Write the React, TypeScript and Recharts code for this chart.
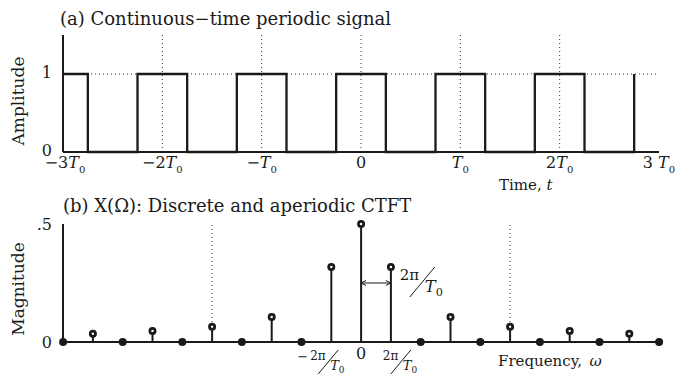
import React from "react";
import {
  ComposedChart,
  Line,
  Bar,
  XAxis,
  YAxis,
  ReferenceLine
} from "recharts";

// (a) square wave, time in units of T0: level switches at each edge
const edgeTimes = [-3, -2.75, -2.25, -1.75, -1.25, -0.75, -0.25, 0.25, 0.75, 1.25, 1.75, 2.25, 2.75];
const pulseLevels = [1, 0, 1, 0, 1, 0, 1, 0, 1, 0, 1, 0, 1];
const timeTicks = [-3, -2, -1, 0, 1, 2, 3];
const timeTickCoefs = ["−3", "−2", "−", "0", "", "2", "3 "];
const timeGrid = [-2, -1, 0, 1, 2];
const ampTicks = [0, 1];

// (b) line spectrum, k = harmonic index (multiples of 2π/T0)
const harmonicIdx = [-10, -9, -8, -7, -6, -5, -4, -3, -2, -1, 0, 1, 2, 3, 4, 5, 6, 7, 8, 9, 10];
const magnitudes = [0, 0.035, 0, 0.047, 0, 0.065, 0, 0.106, 0, 0.318, 0.5, 0.318, 0, 0.106, 0, 0.065, 0, 0.047, 0, 0.035, 0];
const freqTicks = [-1, 0, 1];
const freqGrid = [-5, 5];
const magTicks = [0, 0.5];
const magTickLabels = ["0", ".5"];

const signal = edgeTimes.map((t, i) => ({ t, level: pulseLevels[i] }));
const spectrum = harmonicIdx.map((k, i) => ({ k, mag: magnitudes[i] }));

const FONT = "'DejaVu Serif', serif";
const INK = "#1a1a1a";

const NoTick = () => <g />;

function TimeTick({ x, y, payload }: any) {
  const v = payload.value;
  const coef = timeTickCoefs[timeTicks.indexOf(v)];
  return (
    <text x={x + (v === -3 ? 2 : 0)} y={y + 8} textAnchor="middle" fontFamily={FONT} fontSize={16} fill={INK}>
      {coef}
      {v !== 0 && (
        <>
          <tspan fontStyle="italic">T</tspan>
          <tspan fontSize={10} dy={5}>0</tspan>
        </>
      )}
    </text>
  );
}

// slanted fraction 2π / T0 starting at ox
function Frac({ ox, y, size }: { ox: number; y: number; size: number }) {
  const s = size / 12;
  return (
    <g fontFamily={FONT} fill={INK}>
      <text x={ox} y={y + 10 * s} fontSize={12 * s}>2π</text>
      <line x1={ox + 8 * s} y1={y + 24 * s} x2={ox + 28 * s} y2={y} stroke={INK} strokeWidth={1} />
      <text x={ox + 20 * s} y={y + 20 * s} fontSize={13 * s} fontStyle="italic">
        T<tspan fontSize={9 * s} fontStyle="normal" dy={3 * s}>0</tspan>
      </text>
    </g>
  );
}

function FreqTick({ x, y, payload }: any) {
  const v = payload.value;
  if (v === 0) {
    return (
      <text x={x} y={y + 9} textAnchor="middle" fontFamily={FONT} fontSize={16} fill={INK}>0</text>
    );
  }
  if (v < 0) {
    return (
      <g>
        <text x={x - 23} y={y + 11} textAnchor="end" fontFamily={FONT} fontSize={13} fill={INK}>−</text>
        <Frac ox={x - 21} y={y} size={12} />
      </g>
    );
  }
  return <Frac ox={x - 8} y={y} size={12} />;
}

function Stem(props: any) {
  const { x, y, width, height } = props;
  const cx = x + width / 2;
  const onAxis = !height;
  return (
    <g>
      <line x1={cx} x2={cx} y1={y} y2={y + height} stroke={INK} strokeWidth={2} />
      <circle cx={cx} cy={y} r={2.6} fill={onAxis ? INK : "#fff"} stroke={INK} strokeWidth={2.8} />
    </g>
  );
}

function SpacingArrow(props: any) {
  const { x1, y1, x2 } = props;
  return (
    <g>
      <line x1={x1} y1={y1} x2={x2} y2={y1} stroke={INK} strokeWidth={1} />
      <path d={`M${x1 + 5},${y1 - 2.5} L${x1},${y1} L${x1 + 5},${y1 + 2.5}`} fill="none" stroke={INK} strokeWidth={1} />
      <path d={`M${x2 - 5},${y1 - 2.5} L${x2},${y1} L${x2 - 5},${y1 + 2.5}`} fill="none" stroke={INK} strokeWidth={1} />
      <Frac ox={x2 + 9} y={y1 - 16} size={15} />
    </g>
  );
}

const axisLine = { stroke: INK, strokeWidth: 2 };
const dotted = { stroke: "#333", strokeDasharray: "1 3", strokeWidth: 1 };
const textStyle = { fontFamily: FONT, fill: INK };

export default function App() {
  return (
    <div style={{ position: "absolute", left: 0, top: 0, width: 679, height: 375, background: "#fff" }}>
      <div style={{ position: "absolute", left: 0, top: 0 }}>
        <ComposedChart width={679} height={195} data={signal} margin={{ top: 35, right: 20, bottom: 0, left: 23 }}>
          <XAxis
            xAxisId="b"
            dataKey="t"
            type="number"
            domain={[-3, 3]}
            ticks={timeTicks}
            tick={<TimeTick />}
            tickLine={false}
            axisLine={axisLine}
            height={43}
          />
          <XAxis
            xAxisId="t"
            orientation="top"
            dataKey="t"
            type="number"
            domain={[-3, 3]}
            ticks={timeGrid}
            tick={NoTick}
            mirror
            tickSize={5}
            tickLine={{ stroke: INK, strokeWidth: 2 }}
            axisLine={axisLine}
            height={0}
          />
          <YAxis
            yAxisId="l"
            type="number"
            domain={[0, 1.5]}
            ticks={ampTicks}
            tickLine={false}
            tickMargin={5}
            axisLine={axisLine}
            width={40}
            tick={{ ...textStyle, fontSize: 16, dy: -2 }}
          />
          <YAxis yAxisId="r" orientation="right" type="number" domain={[0, 1.5]} tick={false} tickLine={false} axisLine={axisLine} width={0} />
          {timeGrid.map((t) => (
            <ReferenceLine key={t} xAxisId="b" yAxisId="l" x={t} {...dotted} />
          ))}
          <ReferenceLine xAxisId="b" yAxisId="l" y={1} {...dotted} />
          <Line
            xAxisId="b"
            yAxisId="l"
            type="stepAfter"
            dataKey="level"
            stroke={INK}
            strokeWidth={2.3}
            dot={false}
            isAnimationActive={false}
          />
        </ComposedChart>
      </div>

      <div style={{ position: "absolute", left: 0, top: 190 }}>
        <ComposedChart width={679} height={185} data={spectrum} margin={{ top: 34, right: 20, bottom: 0, left: 23 }}>
          <XAxis
            xAxisId="b"
            dataKey="k"
            type="number"
            domain={[-10, 10]}
            ticks={freqTicks}
            tick={<FreqTick />}
            tickLine={false}
            axisLine={axisLine}
            height={33}
          />
          <XAxis
            xAxisId="t"
            orientation="top"
            dataKey="k"
            type="number"
            domain={[-10, 10]}
            ticks={freqGrid}
            tick={NoTick}
            mirror
            tickSize={5}
            tickLine={{ stroke: INK, strokeWidth: 2 }}
            axisLine={axisLine}
            height={0}
          />
          <YAxis
            yAxisId="l"
            type="number"
            domain={[0, 0.5]}
            ticks={magTicks}
            tickFormatter={(v: number) => magTickLabels[magTicks.indexOf(v)]}
            tickLine={false}
            tickMargin={5}
            axisLine={axisLine}
            width={40}
            tick={{ ...textStyle, fontSize: 16 }}
          />
          <YAxis yAxisId="r" orientation="right" type="number" domain={[0, 0.5]} tick={false} tickLine={false} axisLine={axisLine} width={0} />
          {freqGrid.map((k) => (
            <ReferenceLine key={k} xAxisId="b" yAxisId="l" x={k} {...dotted} />
          ))}
          <ReferenceLine
            xAxisId="b"
            yAxisId="l"
            segment={[{ x: 0, y: 0.25 }, { x: 1, y: 0.25 }]}
            shape={SpacingArrow}
          />
          <Bar xAxisId="b" yAxisId="l" dataKey="mag" barSize={2} shape={Stem} isAnimationActive={false} />
        </ComposedChart>
      </div>

      <svg width={679} height={375} style={{ position: "absolute", left: 0, top: 0, pointerEvents: "none" }}>
        <g {...textStyle} fontSize={18}>
          <text x={60} y={25}>(a) Continuous−time periodic signal</text>
          <text x={63} y={212}>(b) X(Ω): Discrete and aperiodic CTFT</text>
          <text x={24} y={101} textAnchor="middle" transform="rotate(-90 24 101)" fontSize={17}>Amplitude</text>
          <text x={24} y={289} textAnchor="middle" transform="rotate(-90 24 289)" fontSize={17}>Magnitude</text>
          <text x={499} y={190} fontSize={15}>
            Time, <tspan fontStyle="italic">t</tspan>
          </text>
          <text x={498} y={366} fontSize={15}>
            Frequency,{"\u2002"}<tspan fontStyle="italic">ω</tspan>
          </text>
        </g>
      </svg>
    </div>
  );
}
